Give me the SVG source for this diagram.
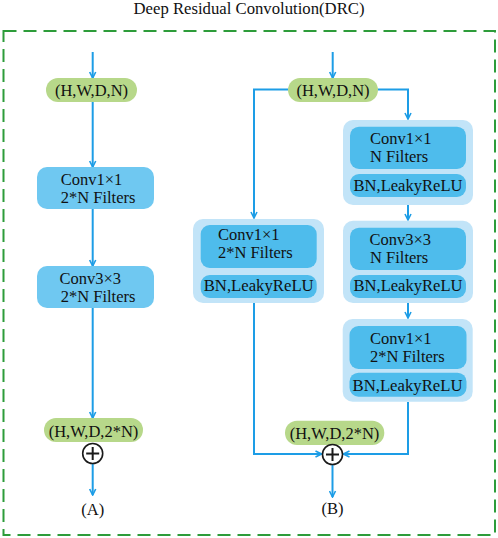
<svg xmlns="http://www.w3.org/2000/svg" width="498" height="538" viewBox="0 0 498 538">
<defs>
<style>
text{font-family:"Liberation Serif","Times New Roman",serif;font-size:16.5px;fill:#111111}
.pill{fill:#b7d88a}
.conv{fill:#6fc8f1}
.outer{fill:#c2e4f8}
.inner{fill:#4ebcec}
.ln{fill:none;stroke:#1d9de6;stroke-width:2}
.arr{marker-end:url(#ah)}
.mid{text-anchor:middle}
</style>
<marker id="ah" viewBox="0 0 8 8" refX="7" refY="4" markerWidth="8" markerHeight="8" markerUnits="userSpaceOnUse" orient="auto">
<path d="M1,1 L7,4 L1,7" fill="none" stroke="#1d9de6" stroke-width="1.6"/>
</marker>
</defs>
<rect width="498" height="538" fill="#ffffff"/>
<text x="249" y="14" class="mid" style="font-size:16.5px" textLength="231" lengthAdjust="spacingAndGlyphs">Deep Residual Convolution(DRC)</text>
<rect x="3.5" y="31" width="491.5" height="504" fill="none" stroke="#2d9c3a" stroke-width="2" stroke-dasharray="13,7"/>

<g id="connectors">
<path class="ln arr" d="M92.7,52 V78"/>
<path class="ln arr" d="M92.7,102 V167"/>
<path class="ln arr" d="M92.7,209 V266"/>
<path class="ln arr" d="M92.7,308 V418"/>
<path class="ln arr" d="M92.7,464 V495"/>
<path class="ln arr" d="M332.7,52 V78"/>
<path class="ln arr" d="M288,89.5 H254 V218"/>
<path class="ln arr" d="M378,89.5 H408 V119"/>
<path class="ln arr" d="M408,205 V220"/>
<path class="ln arr" d="M408,303 V318"/>
<path class="ln arr" d="M254,303 V454 H321.5"/>
<path class="ln arr" d="M408,402 V454 H343.5"/>
<path class="ln arr" d="M332.5,465 V497"/>
</g>

<g id="A-input">
<rect class="pill" x="46" y="78" width="91" height="24" rx="12"/>
<text x="91.5" y="96" class="mid">(H,W,D,N)</text>
</g>
<g id="A-conv1">
<rect class="conv" x="37" y="167" width="117" height="42" rx="10"/>
<text x="60.7" y="185">Conv1×1</text>
<text x="60.7" y="203">2*N Filters</text>
</g>
<g id="A-conv3">
<rect class="conv" x="37" y="266" width="117" height="42" rx="10"/>
<text x="59.5" y="284">Conv3×3</text>
<text x="60.7" y="302">2*N Filters</text>
</g>
<g id="A-output">
<rect class="pill" x="44" y="418" width="99" height="24" rx="12"/>
<text x="93.5" y="436.5" class="mid">(H,W,D,2*N)</text>
</g>
<g id="A-add">
<circle cx="92.7" cy="453.5" r="10" fill="#ffffff" stroke="#1a1a1a" stroke-width="1.6"/>
<path d="M86.2,453.5 H99.2 M92.7,447 V460" stroke="#1a1a1a" stroke-width="2"/>
</g>
<text x="92.7" y="515" class="mid">(A)</text>

<g id="B-input">
<rect class="pill" x="288" y="78" width="90" height="24" rx="12"/>
<text x="333" y="96" class="mid">(H,W,D,N)</text>
</g>
<g id="B-shortcut">
<rect class="outer" x="193" y="219" width="131" height="84" rx="10"/>
<rect class="inner" x="200.7" y="225" width="116" height="43" rx="9"/>
<rect class="inner" x="200.7" y="275" width="116" height="23" rx="9"/>
<text x="218" y="240">Conv1×1</text>
<text x="218" y="258">2*N Filters</text>
<text x="258.7" y="291" class="mid" textLength="110" lengthAdjust="spacingAndGlyphs">BN,LeakyReLU</text>
</g>
<g id="B-block1">
<rect class="outer" x="343" y="120" width="130" height="85" rx="10"/>
<rect class="inner" x="350" y="126.7" width="116" height="42.3" rx="9"/>
<rect class="inner" x="350" y="174" width="116" height="23" rx="9"/>
<text x="370" y="144">Conv1×1</text>
<text x="370" y="162">N Filters</text>
<text x="408" y="190.5" class="mid" textLength="109" lengthAdjust="spacingAndGlyphs">BN,LeakyReLU</text>
</g>
<g id="B-block2">
<rect class="outer" x="343" y="220.7" width="130" height="82.3" rx="10"/>
<rect class="inner" x="350" y="227.7" width="116" height="42.3" rx="9"/>
<rect class="inner" x="350" y="275" width="116" height="23" rx="9"/>
<text x="369.5" y="245">Conv3×3</text>
<text x="370" y="263">N Filters</text>
<text x="408" y="291" class="mid" textLength="109" lengthAdjust="spacingAndGlyphs">BN,LeakyReLU</text>
</g>
<g id="B-block3">
<rect class="outer" x="342.7" y="319" width="130" height="82.7" rx="10"/>
<rect class="inner" x="349.5" y="326" width="117" height="43" rx="9"/>
<rect class="inner" x="349.5" y="372.7" width="117" height="24" rx="9"/>
<text x="370" y="343.5">Conv1×1</text>
<text x="370" y="362">2*N Filters</text>
<text x="407.5" y="390.5" class="mid" textLength="110" lengthAdjust="spacingAndGlyphs">BN,LeakyReLU</text>
</g>
<g id="B-output">
<rect class="pill" x="285" y="420.7" width="99.3" height="24.3" rx="12"/>
<text x="334.5" y="439" class="mid">(H,W,D,2*N)</text>
</g>
<g id="B-add">
<circle cx="332.5" cy="454.5" r="10" fill="#ffffff" stroke="#1a1a1a" stroke-width="1.6"/>
<path d="M326,454.5 H339 M332.5,448 V461" stroke="#1a1a1a" stroke-width="2"/>
</g>
<text x="332.5" y="513.5" class="mid">(B)</text>
</svg>
